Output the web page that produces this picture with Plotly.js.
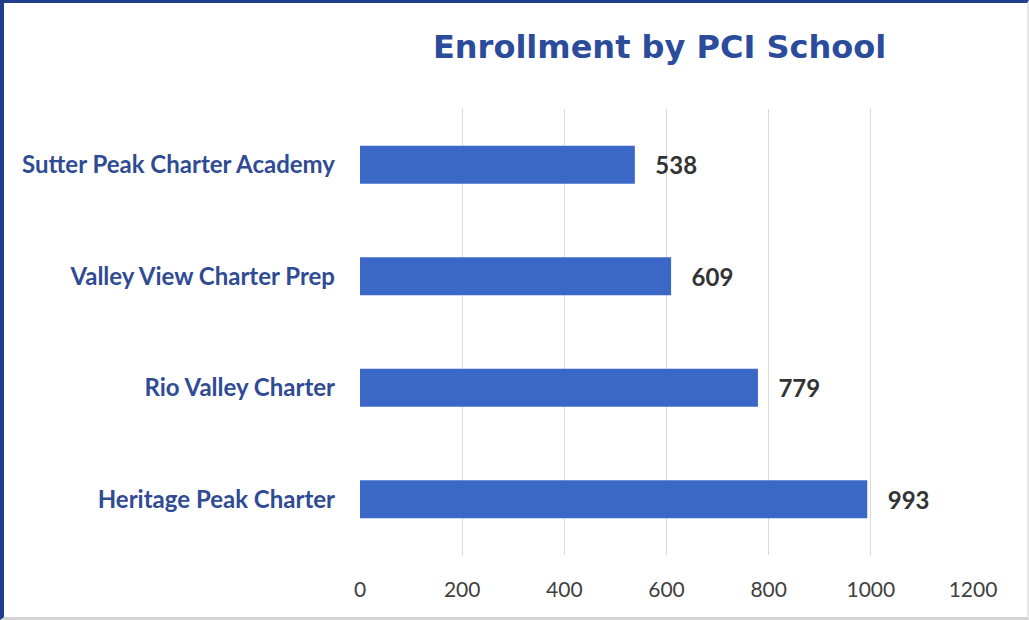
<!DOCTYPE html>
<html>
<head>
<meta charset="utf-8">
<script src="https://cdn.plot.ly/plotly-3.0.1.min.js"></script>
<style>
  html, body { margin: 0; padding: 0; background: #ffffff; }
  #wrap { position: relative; width: 1029px; height: 620px; }
  #chart { width: 1029px; height: 620px; }
  #frame {
    position: absolute; left: 0; top: 0; width: 1029px; height: 620px;
    box-sizing: border-box; pointer-events: none;
    border-top: 3px solid #1F3F8C; border-left: 4px solid #1F3F8C;
    border-right: 2px solid #E6E6E6; border-bottom: 3px solid #D4D4D4;
  }
</style>
</head>
<body>
<div id="wrap">
  <div id="chart"></div>
  <div id="frame"></div>
</div>
<script>
// schools, listed bottom to top as they appear
var schools = ['Heritage Peak Charter', 'Rio Valley Charter', 'Valley View Charter Prep', 'Sutter Peak Charter Academy'];
var enrollment = [993, 779, 609, 538];
var xTicks = [0, 200, 400, 600, 800, 1000, 1200];

var trace = {
    type: 'bar',
    orientation: 'h',
    y: schools,
    x: enrollment,
    marker: {color: '#3B68C6'},
    texttemplate: '\u00a0\u00a0\u00a0%{x}',
    textposition: 'outside',
    cliponaxis: false,
    textfont: {family: 'Lato', size: 24, color: '#333333', weight: 'bold'},
    hoverinfo: 'none'
};

var layout = {
    width: 1029,
    height: 620,
    margin: {l: 360, r: 56, t: 109, b: 65},
    paper_bgcolor: '#ffffff',
    plot_bgcolor: '#ffffff',
    showlegend: false,
    bargap: 0.66,
    title: {
        text: 'Enrollment by PCI School',
        font: {family: 'DejaVu Sans', size: 32, color: '#2B4B9B', weight: 'bold'},
        x: 0.641, xanchor: 'center', xref: 'container',
        y: 0.924, yanchor: 'middle', yref: 'container'
    },
    xaxis: {
        range: [0, 1200],
        tickvals: xTicks,
        ticktext: xTicks.map(String),
        showgrid: true,
        gridcolor: '#D9D9D9',
        gridwidth: 1,
        zeroline: false,
        showline: false,
        ticks: '',
        ticklabelstandoff: 20,
        tickfont: {family: 'Lato', size: 21, color: '#404040'},
        fixedrange: true
    },
    yaxis: {
        showgrid: false,
        zeroline: false,
        showline: false,
        ticks: '',
        ticklabelstandoff: 24,
        tickfont: {family: 'Lato', size: 24, color: '#2F4B94', weight: 'bold'},
        fixedrange: true
    }
};

Plotly.newPlot('chart', [trace], layout, {displayModeBar: false, staticPlot: true});
</script>
</body>
</html>
